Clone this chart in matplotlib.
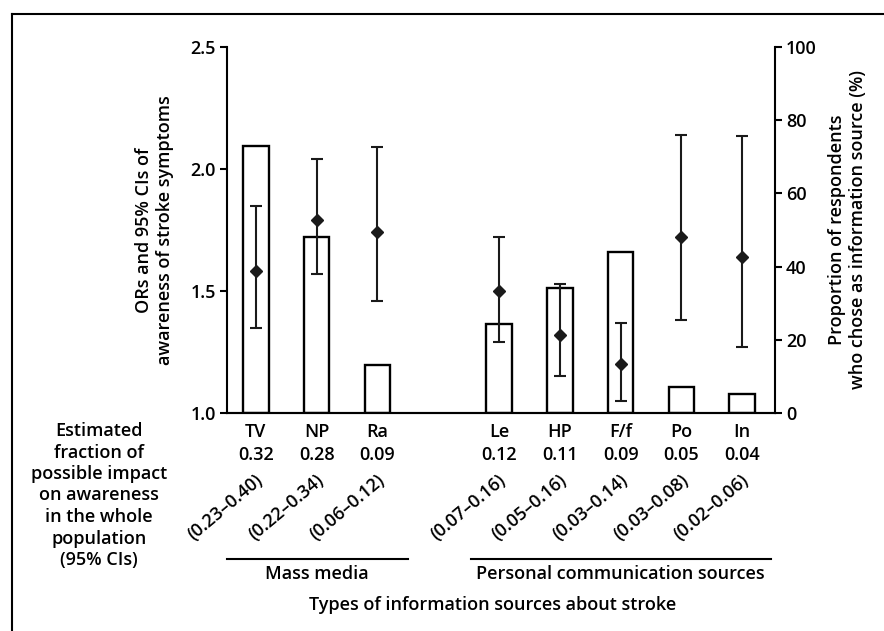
import matplotlib.pyplot as plt
from matplotlib.lines import Line2D

plt.rcParams['font.family'] = ['Open Sans', 'DejaVu Sans']
plt.rcParams['font.size'] = 13
plt.rcParams['font.weight'] = 'semibold'
plt.rcParams['axes.labelweight'] = 'semibold'

# information sources and estimates
sources = ['TV', 'NP', 'Ra', 'Le', 'HP', 'F/f', 'Po', 'In']
groups = ['Mass media', 'Mass media', 'Mass media',
          'Personal', 'Personal', 'Personal', 'Personal', 'Personal']
impact = ['0.32', '0.28', '0.09', '0.12', '0.11', '0.09', '0.05', '0.04']
impact_ci = ['(0.23–0.40)', '(0.22–0.34)', '(0.06–0.12)', '(0.07–0.16)',
             '(0.05–0.16)', '(0.03–0.14)', '(0.03–0.08)', '(0.02–0.06)']
proportion = [72.9, 48.2, 13.2, 24.4, 34.2, 44.1, 7.1, 5.2]
odds = [1.58, 1.79, 1.74, 1.50, 1.32, 1.20, 1.72, 1.64]
odds_lo = [1.35, 1.57, 1.46, 1.29, 1.15, 1.05, 1.38, 1.27]
odds_hi = [1.85, 2.04, 2.09, 1.72, 1.53, 1.37, 2.14, 2.135]

# one empty slot between the two groups
x = []
pos = 0
for i, g in enumerate(groups):
    if i > 0 and g != groups[i - 1]:
        pos += 1
    x.append(pos)
    pos += 1

fig = plt.figure(figsize=(8.84, 6.31), dpi=100)
ax = fig.add_axes([0.2568, 0.3455, 0.6199, 0.58])
ax2 = ax.twinx()

# bars: proportion of respondents (right axis)
ax2.bar(x, proportion, width=0.42, facecolor='white', edgecolor='black', linewidth=1.7)
ax2.set_ylim(0, 100)
ax2.set_yticks([0, 20, 40, 60, 80, 100])

# diamonds with 95% CIs: odds ratios (left axis)
yerr = [[o - l for o, l in zip(odds, odds_lo)], [h - o for o, h in zip(odds, odds_hi)]]
ax.errorbar(x, odds, yerr=yerr, fmt='D', color='#1a1a1a', markersize=6,
            elinewidth=1.5, capsize=4, capthick=1.5)
ax.set_ylim(1.0, 2.5)
ax.set_yticks([1.0, 1.5, 2.0, 2.5])
ax.set_xlim(-0.475, 8.54)
ax.set_xticks([])

ax.set_zorder(ax2.get_zorder() + 1)
ax.patch.set_visible(False)

for a in (ax, ax2):
    a.spines['top'].set_visible(False)
    for s in a.spines.values():
        s.set_linewidth(1.5)
    a.tick_params(axis='y', direction='out', length=5, width=1.5, labelsize=13, pad=3)
ax.spines['right'].set_visible(False)
ax2.spines['left'].set_visible(False)

ax.set_ylabel('ORs and 95% CIs of\nawareness of stroke symptoms', fontsize=13, labelpad=12)
ax2.set_ylabel('Proportion of respondents\nwho chose as information source (%)', fontsize=13, labelpad=8)

# labels under the bars
tr = ax.get_xaxis_transform()
for xi, name, val, ci in zip(x, sources, impact, impact_ci):
    ax.text(xi, -0.052, name, transform=tr, ha='center', va='center', fontsize=13)
    ax.text(xi, -0.115, val, transform=tr, ha='center', va='center', fontsize=13)
    ax.text(xi + 0.17, -0.158, ci, transform=tr, ha='right', va='top', rotation=40, fontsize=13)

# group brackets
ax.add_line(Line2D([-0.475, 2.5], [-0.40, -0.40], transform=tr, color='black', lw=1.5, clip_on=False))
ax.add_line(Line2D([3.54, 8.48], [-0.40, -0.40], transform=tr, color='black', lw=1.5, clip_on=False))
ax.text(1, -0.44, 'Mass media', transform=tr, ha='center', va='center', fontsize=13)
ax.text(6, -0.44, 'Personal communication sources', transform=tr, ha='center', va='center', fontsize=13)
ax.text(3.9, -0.525, 'Types of information sources about stroke', transform=tr,
        ha='center', va='center', fontsize=13)

fig.text(99 / 884, 1 - 422 / 631,
         'Estimated\nfraction of\npossible impact\non awareness\nin the whole\npopulation\n(95% CIs)',
         ha='center', va='top', fontsize=13, linespacing=1.25)

# frame around the figure (top and left edges)
fig.add_artist(Line2D([12 / 884, 1], [1 - 14 / 631, 1 - 14 / 631], transform=fig.transFigure, color='black', lw=1.5))
fig.add_artist(Line2D([12 / 884, 12 / 884], [0, 1 - 14 / 631], transform=fig.transFigure, color='black', lw=1.5))

fig.savefig('out.png', dpi=100)
